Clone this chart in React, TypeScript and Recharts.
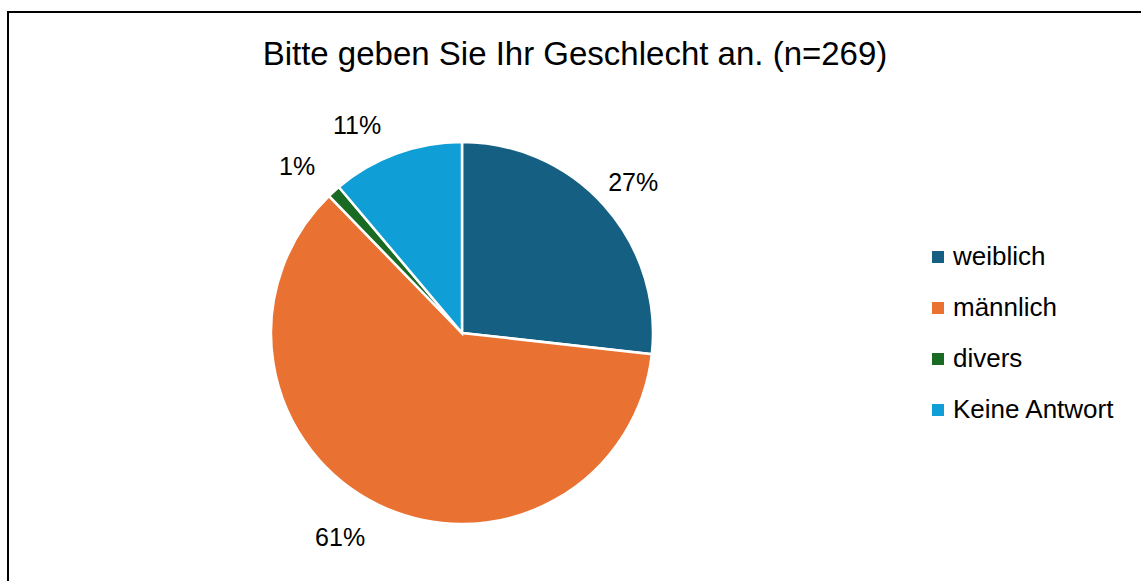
import React from "react";
import { PieChart, Pie, Cell, Legend } from "recharts";

const categories = ["weiblich", "männlich", "divers", "Keine Antwort"];
const counts = [72, 164, 3, 30];
const percentLabels = ["27%", "61%", "1%", "11%"];
const colors = ["#156082", "#E97132", "#196B24", "#0F9ED5"];
const title = "Bitte geben Sie Ihr Geschlecht an. (n=269)";

// label layout tweaks (Excel "best fit" placement)
const labelAngleNudge = [-0.5, -4.7, 2.4, 6.7];
const labelDistance = [228, 238, 235, 233];

const data = categories.map((name, i) => ({ name, value: counts[i], label: percentLabels[i] }));

const FONT = "'Liberation Sans', Arial, sans-serif";
const RAD = Math.PI / 180;

const renderLabel = (props: any) => {
  const { cx, cy, midAngle, index } = props;
  const text = percentLabels[index];
  const a = (midAngle + labelAngleNudge[index]) * RAD;
  const r = labelDistance[index];
  const x = cx + r * Math.cos(-a);
  const y = cy + r * Math.sin(-a);
  return (
    <text
      x={x}
      y={y}
      fill="#000"
      textAnchor="middle"
      dominantBaseline="central"
      fontSize={25}
      fontFamily={FONT}
    >
      {text}
    </text>
  );
};

const LegendContent = (props: any) => {
  const { payload } = props;
  const items = [...(payload || [])].sort(
    (a: any, b: any) => categories.indexOf(a.value) - categories.indexOf(b.value)
  );
  return (
    <div style={{ fontFamily: FONT }}>
      {items.map((p: any, i: number) => (
        <div key={i} style={{ display: "flex", alignItems: "center", height: 51 }}>
          <span
            style={{
              display: "inline-block",
              width: 12,
              height: 12,
              background: p.color,
              marginRight: 9,
            }}
          />
          <span style={{ fontSize: 26, color: "#000" }}>{p.value}</span>
        </div>
      ))}
    </div>
  );
};

export default function App() {
  return (
    <div
      style={{
        position: "fixed",
        left: 0,
        top: 0,
        width: 1141,
        height: 581,
        overflow: "hidden",
        background: "#fff",
      }}
    >
      <div
        style={{
          position: "absolute",
          left: 7,
          top: 11,
          width: 1200,
          height: 700,
          border: "2px solid #000",
          boxSizing: "border-box",
        }}
      />
      <div
        style={{
          position: "absolute",
          left: 0,
          top: 34,
          width: 1150,
          textAlign: "center",
          fontFamily: FONT,
          fontSize: 33,
          color: "#000",
          lineHeight: "40px",
        }}
      >
        {title}
      </div>
      <div style={{ position: "absolute", left: 0, top: 0 }}>
        <PieChart width={1141} height={581} margin={{ top: 0, right: 0, bottom: 0, left: 0 }}>
          <Pie
            data={data}
            dataKey="value"
            nameKey="name"
            cx={462}
            cy={333}
            outerRadius={191}
            startAngle={90}
            endAngle={-270}
            stroke="#fff"
            strokeWidth={2.5}
            label={renderLabel}
            labelLine={false}
            isAnimationActive={false}
          >
            {data.map((d, i) => (
              <Cell key={d.name} fill={colors[i]} />
            ))}
          </Pie>
          <Legend
            layout="vertical"
            align="right"
            verticalAlign="top"
            content={<LegendContent />}
            wrapperStyle={{ position: "absolute", left: 932, top: 231, width: 209 }}
          />
        </PieChart>
      </div>
    </div>
  );
}
